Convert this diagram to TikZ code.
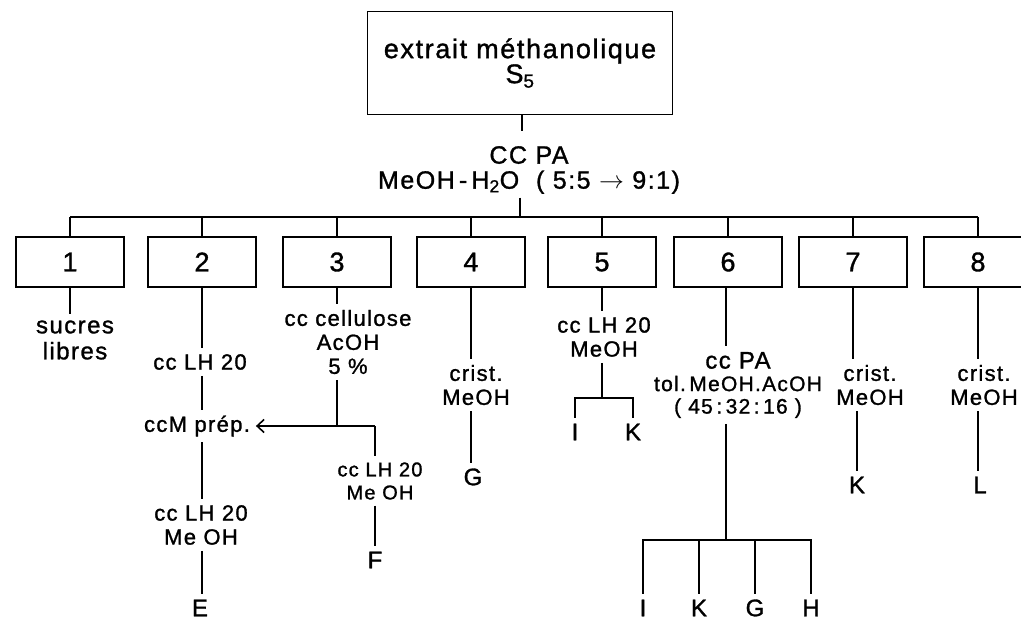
\documentclass[tikz,border=0pt]{standalone}
\usepackage{fontspec}
\setmainfont{Liberation Sans}[LetterSpace=6,FakeBold=1.2]
\usetikzlibrary{arrows.meta}
\begin{document}
\begin{tikzpicture}[x=1pt,y=-1pt,line width=1.7pt,
  box/.style={draw,line width=1.9pt,minimum width=108pt,minimum height=50pt,inner sep=0pt,font=\fontsize{27}{29}\selectfont},
  topbox/.style={draw,line width=1.9pt,minimum width=305pt,minimum height=103pt,align=center,inner sep=0pt,font=\fontsize{27}{25}\selectfont},
  lbl/.style={align=center,inner sep=0pt,outer sep=6pt,font=\fontsize{22}{24}\selectfont},
  leaf/.style={inner sep=0pt,outer sep=6pt,font=\fontsize{24}{26}\selectfont},
  arr/.style={-{Straight Barb[length=7pt,width=13pt,line width=1.6pt]}}]
\useasboundingbox (0,0) rectangle (1021,623);
\clip (0,0) rectangle (1021,623);
% top
\node[topbox] (top) at (520,63) {extrait méthanolique\\S\textsubscript{5}};
\coordinate (t1) at (522,131);
\draw (top.south -| t1) -- (t1);
\node[align=center,inner sep=0pt,font=\fontsize{25}{25}\selectfont] (mid) at (529,170) {CC PA\\MeOH\,-\,H\textsubscript{2}O \ ( 5:5 $\rightarrow$ 9:1)};
\coordinate (bus) at (520,217);
\draw (bus |- mid.south) ++(0,3) -- (bus);
% boxes
\node[box] (b1) at (70,262) {1};
\node[box] (b2) at (202,262) {2};
\node[box] (b3) at (337,262) {3};
\node[box] (b4) at (471,262) {4};
\node[box] (b5) at (602,262) {5};
\node[box] (b6) at (728,262) {6};
\node[box] (b7) at (853,262) {7};
\node[box] (b8) at (978,262) {8};
\draw (b1.north |- bus) -- (b8.north |- bus);
\foreach \i in {1,...,8} {\draw (b\i.north) -- (b\i.north |- bus);}
% branch 1
\node[lbl,font=\fontsize{24}{26}\selectfont] (l1) at (75,340) {sucres\\libres};
\draw (b1.south) -- (b1.south |- l1.north);
% branch 2
\node[lbl] (l2a) at (200,362) {cc LH 20};
\node[lbl] (l2b) at (197,426) {ccM prép.};
\node[lbl] (l2c) at (201,525) {cc LH 20\\Me OH};
\node[leaf] (E) at (200,608) {E};
\draw (b2.south) -- (b2.south |- l2a.north);
\draw (l2a.south -| b2) -- (l2b.north -| b2);
\draw (l2b.south -| b2) -- (l2c.north -| b2);
\draw (l2c.south -| b2) -- (E.north -| b2);
% branch 3
\node[lbl] (l3) at (348,342) {cc cellulose\\AcOH\\5 \%};
\node[lbl,font=\fontsize{20}{23}\selectfont] (l3b) at (380,481) {cc LH 20\\Me OH};
\node[leaf] (F) at (375,560) {F};
\coordinate (j3) at (375,426);
\draw (b3.south) -- (b3.south |- l3.north);
\draw (l3.south -| b3) -- (b3 |- j3);
\draw[arr] (j3) -- (l2b.east);
\draw (j3) -- (l3b.north -| j3);
\draw (l3b.south -| j3) -- (F.north -| j3);
% branch 4
\node[lbl] (l4) at (476,385) {crist.\\MeOH};
\node[leaf] (G4) at (473,477) {G};
\draw (b4.south) -- (b4.south |- l4.north);
\draw (l4.south -| b4) -- (G4.north -| b4);
% branch 5
\node[lbl] (l5) at (604,337) {cc LH 20\\MeOH};
\coordinate (j5) at (602,398);
\node[leaf] (I5) at (575,432) {I};
\node[leaf] (K5) at (633,432) {K};
\draw (b5.south) -- (b5.south |- l5.north);
\draw (l5.south -| j5) -- (j5);
\draw (I5.north) -- (I5 |- j5) -- (K5 |- j5) -- (K5.north);
% branch 6
\node[lbl,font=\fontsize{21}{22.5}\selectfont] (l6) at (738,385) {{\fontsize{24}{22.5}\selectfont cc PA}\\tol.\,MeOH.AcOH\\( 45\,:\,32\,:\,16 )};
\coordinate (j6) at (726,540);
\node[leaf] (I6) at (643,608) {I};
\node[leaf] (K6) at (699,608) {K};
\node[leaf] (G6) at (755,608) {G};
\node[leaf] (H6) at (811,608) {H};
\draw (b6.south -| j6) -- (l6.north -| j6);
\draw (l6.south -| j6) -- (j6);
\draw (I6.north) -- (I6 |- j6) -- (H6 |- j6) -- (H6.north);
\draw (K6.north) -- (K6 |- j6);
\draw (G6.north) -- (G6 |- j6);
% branch 7
\node[lbl] (l7) at (870,385) {crist.\\MeOH};
\node[leaf] (K7) at (857,485) {K};
\draw (b7.south) -- (b7.south |- l7.north);
\draw (l7.south -| K7) -- (K7.north);
% branch 8
\node[lbl] (l8) at (984,385) {crist.\\MeOH};
\node[leaf] (L8) at (980,485) {L};
\draw (b8.south) -- (b8.south |- l8.north);
\draw (l8.south -| b8) -- (L8.north -| b8);
\end{tikzpicture}
\end{document}
